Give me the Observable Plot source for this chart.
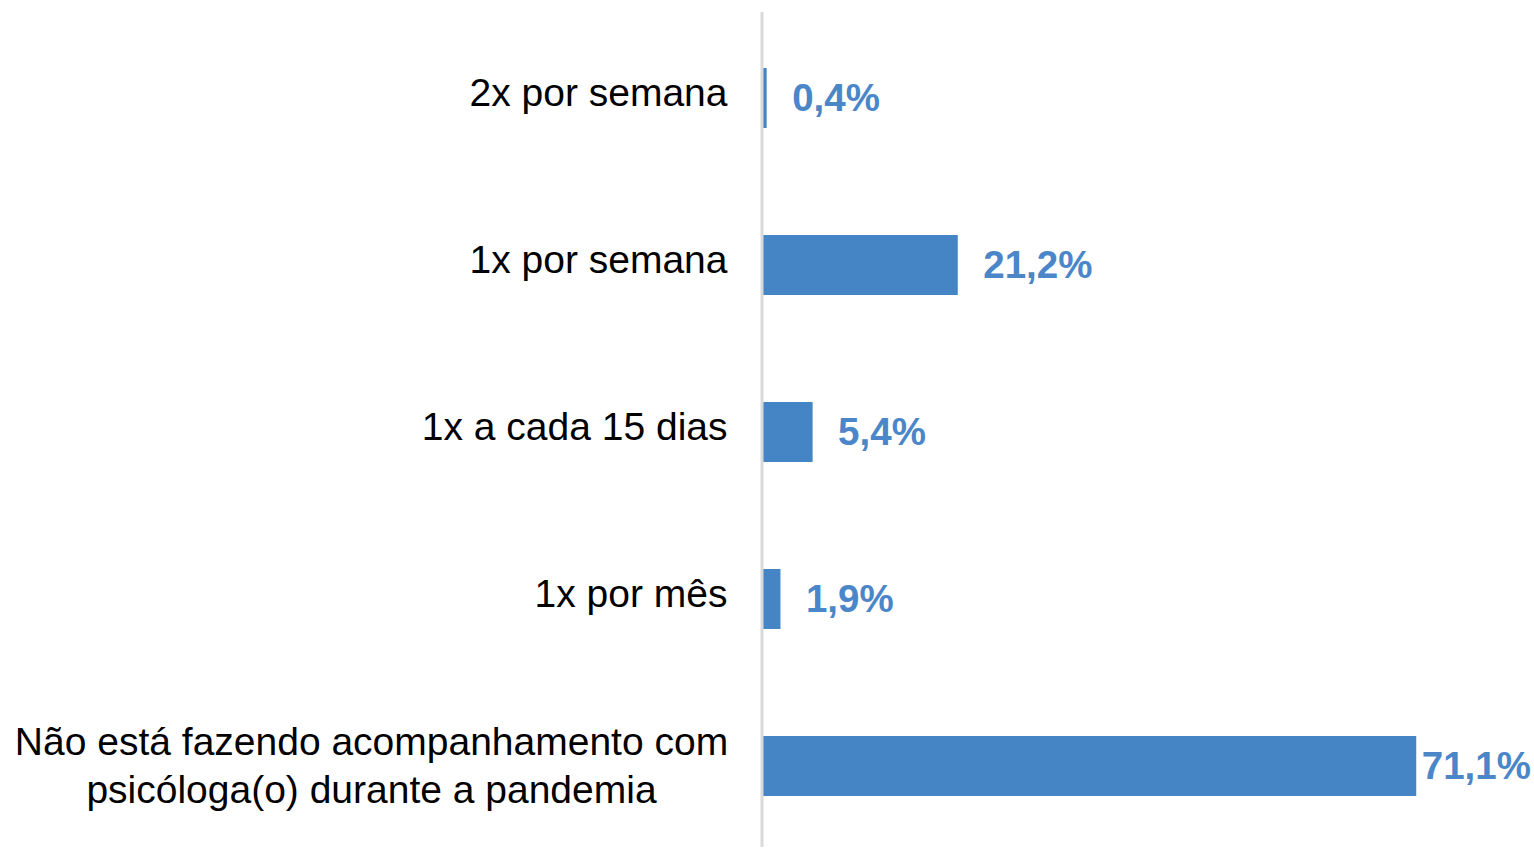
<!DOCTYPE html>
<html>
<head>
<meta charset="utf-8">
<script src="https://cdn.jsdelivr.net/npm/d3@7"></script>
<script src="https://cdn.jsdelivr.net/npm/@observablehq/plot@0.6"></script>
<style>
  html, body { margin: 0; padding: 0; background: #fff; }
  #chart { width: 1534px; height: 848px; }
</style>
</head>
<body>
<div id="chart"></div>
<script>
const categories = [
  "2x por semana",
  "1x por semana",
  "1x a cada 15 dias",
  "1x por mês",
  "Não está fazendo acompanhamento com\npsicóloga(o) durante a pandemia"
];
const values = [0.4, 21.2, 5.4, 1.9, 71.1];
const valueLabels = ["0,4%", "21,2%", "5,4%", "1,9%", "71,1%"];

const data = categories.map((c, i) => ({category: c, value: values[i], label: valueLabels[i]}));
const singleLine = categories.filter(c => !c.includes("\n"));
const multiLine = categories.filter(c => c.includes("\n"));
const lastCat = categories[categories.length - 1];

const barColor = "#4585C5";
const labelColor = "#4A86C8";

const chart = Plot.plot({
  width: 1534,
  height: 848,
  marginLeft: 763,
  marginRight: 36,
  marginTop: 16,
  marginBottom: 1,
  style: {fontFamily: "'Liberation Sans', Arial, sans-serif", background: "#fff"},
  x: {domain: [0, 80], axis: null},
  y: {domain: categories, axis: null, paddingInner: 0.643, paddingOuter: 0.3},
  marks: [
    Plot.barX(data, {x: "value", y: "category", fill: barColor}),
    Plot.ruleX([0], {stroke: "#d9d9d9", strokeWidth: 3, dx: -1.5, insetTop: -4}),
    Plot.text(singleLine, {y: d => d, frameAnchor: "left", textAnchor: "end", dx: -36, dy: -5, fontSize: 39, fill: "#000"}),
    Plot.text(multiLine, {y: d => d, frameAnchor: "left", textAnchor: "middle", dx: -392, dy: -3, fontSize: 39, lineHeight: 1.24, fill: "#000"}),
    Plot.text(data.filter(d => d.category !== lastCat), {x: "value", y: "category", text: "label", textAnchor: "start", dx: 25, fontSize: 38.5, fontWeight: "bold", fill: labelColor}),
    Plot.text(data.filter(d => d.category === lastCat), {x: "value", y: "category", text: "label", textAnchor: "start", dx: 5, fontSize: 38.5, fontWeight: "bold", fill: labelColor})
  ]
});
document.getElementById("chart").appendChild(chart);
</script>
</body>
</html>
